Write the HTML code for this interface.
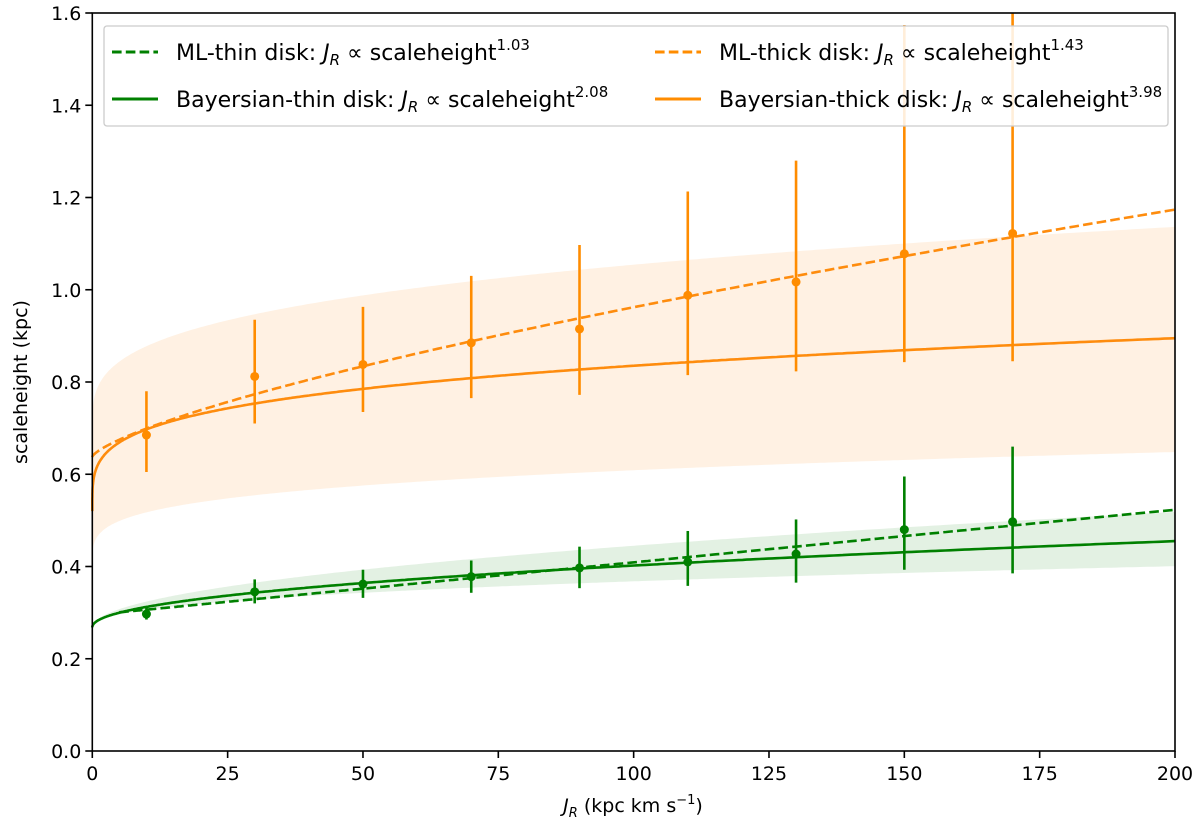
<!DOCTYPE html>
<html><head><meta charset="utf-8"><style>
body{margin:0;background:#fff}
svg{font-family:"DejaVu Sans","Liberation Sans",sans-serif}
</style></head><body>
<svg id="chart" width="1200" height="831" viewBox="0 0 1200 831">
<g id="bands"></g><g id="curves"></g><g id="points"></g><g id="axes"></g><g id="legend"></g>
</svg>
<script>
const jr = [10,30,50,70,90,110,130,150,170];
const thickH = [0.685,0.812,0.838,0.885,0.915,0.988,1.017,1.078,1.122];
const thickLo = [0.605,0.71,0.735,0.765,0.772,0.815,0.823,0.843,0.845];
const thickHi = [0.78,0.935,0.963,1.03,1.097,1.213,1.28,1.574,1.75];
const thinH = [0.297,0.345,0.362,0.378,0.397,0.41,0.427,0.48,0.497];
const thinLo = [0.285,0.32,0.332,0.343,0.353,0.358,0.365,0.393,0.385];
const thinHi = [0.31,0.372,0.393,0.413,0.443,0.477,0.502,0.595,0.66];
// fit params [c, b, p]: h = c + b*J^p
const mlThick = [0.638,0.0115,0.725];
const bayThick = [0.52,0.0997,0.25];
const mlThin = [0.295,0.00114,1];
const bayThin = [0.268,0.0147,0.48];
const thickBandUp = [0.70,0.089,0.3];
const thickBandLo = [0.40,0.066,0.25];
const thinBandUp = [0.268,0.0177,0.5];
const thinBandLo = [0.265,0.0163,0.4];
const xTicks = [0,25,50,75,100,125,150,175,200];
const yTicks = [0,0.2,0.4,0.6,0.8,1.0,1.2,1.4,1.6];

const X0=92.3,X1=1175,Y0=751,Y1=13;
const sx=v=>X0+(v/200)*(X1-X0);
const sy=v=>Y0-(v/1.6)*(Y0-Y1);
const NS='http://www.w3.org/2000/svg';
function mk(tag,attrs,parent){const e=document.createElementNS(NS,tag);for(const k in attrs)e.setAttribute(k,attrs[k]);parent.appendChild(e);return e;}
const f=(p,J)=>p[0]+p[1]*Math.pow(J,p[2]);
const OR='#ff8c00',OR2='#fe8c0e',GR='#008000';
const bands=document.getElementById('bands'),curves=document.getElementById('curves'),pts=document.getElementById('points'),axes=document.getElementById('axes');

function band(up,lo,fill,name){
  let d='';const N=400;
  for(let i=0;i<=N;i++){const J=200*Math.pow(i/N,2);d+=(i?'L':'M')+sx(J).toFixed(1)+','+sy(f(up,J)).toFixed(1);}
  for(let i=N;i>=0;i--){const J=200*Math.pow(i/N,2);d+='L'+sx(J).toFixed(1)+','+sy(f(lo,J)).toFixed(1);}
  const e=mk('path',{d:d+'Z',fill:fill},bands);
  
  
}
band(thickBandUp,thickBandLo,'#fff1e3','thick-disk-band');
band(thinBandUp,thinBandLo,'#e3f1e3','thin-disk-band');

function curve(p,start,color,dash,name){
  let d='';
  for(let i=0;i<=400;i++){const J=start+(200-start)*Math.pow(i/400,2);d+=(i?'L':'M')+sx(J).toFixed(1)+','+sy(f(p,J)).toFixed(1);}
  const e=mk('path',{d:d,fill:'none',stroke:color,'stroke-width':2.6},curves);
  if(dash)e.setAttribute('stroke-dasharray','9.6,4.2');
  
  
}

function points(h,lo,hi,color,name){
  const clip=mk('clipPath',{id:'clip-'+name},pts);
  mk('rect',{x:X0,y:Y1,width:X1-X0,height:Y0-Y1},clip);
  const g=mk('g',{'clip-path':'url(#clip-'+name+')'},pts);
  jr.forEach((J,i)=>{
    const l=mk('line',{x1:sx(J),x2:sx(J),y1:sy(lo[i]),y2:sy(hi[i]),stroke:color,'stroke-width':2.6},g);
    
    
    const c=mk('circle',{cx:sx(J),cy:sy(h[i]),r:4.5,fill:color},g);
    
    
  });
}
points(thickH,thickLo,thickHi,OR,'thick-disk');
points(thinH,thinLo,thinHi,GR,'thin-disk');
curve(mlThick,0,OR2,true,'ml-thick-fit');
curve(bayThick,0,OR2,false,'bayesian-thick-fit');
curve(mlThin,5,GR,true,'ml-thin-fit');
curve(bayThin,0,GR,false,'bayesian-thin-fit');

const fr=mk('rect',{x:X0,y:Y1,width:X1-X0,height:Y0-Y1,fill:'none',stroke:'#000','stroke-width':1.6},axes);

xTicks.forEach(v=>{
  mk('line',{x1:sx(v),x2:sx(v),y1:Y0,y2:Y0+7,stroke:'#000','stroke-width':1.6},axes);
  const t=mk('text',{x:sx(v),y:Y0+29,'font-size':19,'text-anchor':'middle'},axes);t.textContent=v;
  
});
yTicks.forEach(v=>{
  mk('line',{x1:X0-7,x2:X0,y1:sy(v),y2:sy(v),stroke:'#000','stroke-width':1.6},axes);
  const t=mk('text',{x:X0-11,y:sy(v)+7,'font-size':19,'text-anchor':'end'},axes);t.textContent=v.toFixed(1);
  
});
</script>
<svg style="position:absolute;left:0;top:0" width="1200" height="831">
<text x="633" y="812" font-size="19" text-anchor="middle" font-family="DejaVu Sans,sans-serif"><tspan font-style="italic">J</tspan><tspan font-style="italic" font-size="13" dy="5">R</tspan><tspan dy="-5"> (kpc km s</tspan><tspan font-size="13" dy="-8">−1</tspan><tspan dy="8">)</tspan></text>
<text transform="translate(27,382) rotate(-90)" font-size="19" text-anchor="middle" font-family="DejaVu Sans,sans-serif">scaleheight (kpc)</text>
<g font-family="DejaVu Sans,sans-serif" font-size="22">
<rect x="104" y="26" width="1064" height="100" rx="3" fill="#fff" fill-opacity="0.85" stroke="#ccc" stroke-width="1.3"/>
<line x1="112" x2="158" y1="52" y2="52" stroke="#008000" stroke-width="3" stroke-dasharray="9.6,4.2"/>
<text x="176" y="60">ML-thin disk: <tspan font-style="italic">J</tspan><tspan font-style="italic" font-size="15" dy="5">R</tspan><tspan dy="-5"> ∝ scaleheight</tspan><tspan font-size="15" dy="-10">1.03</tspan></text>
<line x1="112" x2="158" y1="99" y2="99" stroke="#008000" stroke-width="3"/>
<text x="176" y="107">Bayersian-thin disk: <tspan font-style="italic">J</tspan><tspan font-style="italic" font-size="15" dy="5">R</tspan><tspan dy="-5"> ∝ scaleheight</tspan><tspan font-size="15" dy="-10">2.08</tspan></text>
<line x1="655" x2="701" y1="52" y2="52" stroke="#ff8c00" stroke-width="3" stroke-dasharray="9.6,4.2"/>
<text x="719" y="60">ML-thick disk: <tspan font-style="italic">J</tspan><tspan font-style="italic" font-size="15" dy="5">R</tspan><tspan dy="-5"> ∝ scaleheight</tspan><tspan font-size="15" dy="-10">1.43</tspan></text>
<line x1="655" x2="701" y1="99" y2="99" stroke="#ff8c00" stroke-width="3"/>
<text x="719" y="107">Bayersian-thick disk: <tspan font-style="italic">J</tspan><tspan font-style="italic" font-size="15" dy="5">R</tspan><tspan dy="-5"> ∝ scaleheight</tspan><tspan font-size="15" dy="-10">3.98</tspan></text>
</g>
</svg>
</body></html>
